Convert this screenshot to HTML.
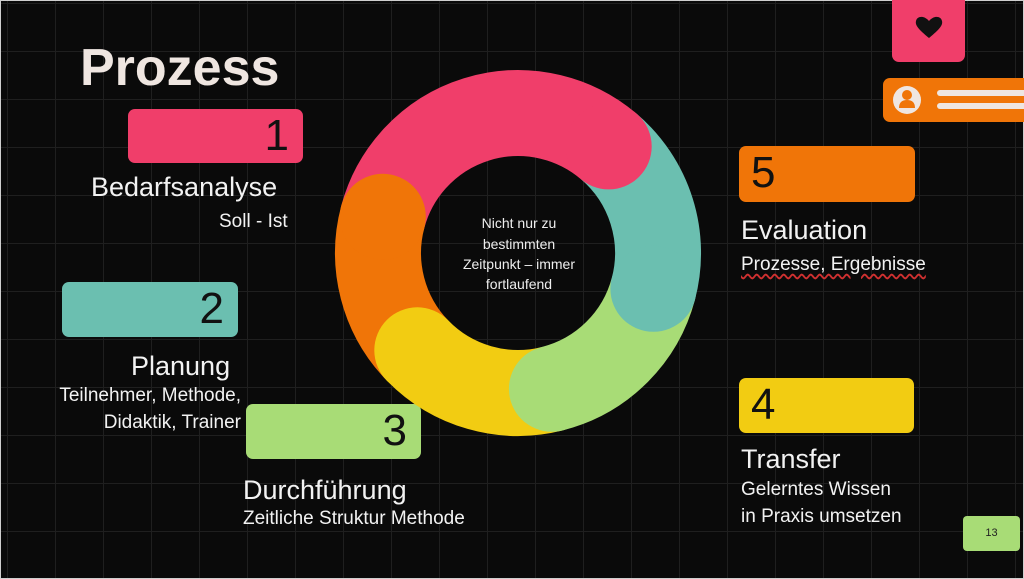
<!DOCTYPE html>
<html><head><meta charset="utf-8"><style>
*{margin:0;padding:0;box-sizing:border-box}
body{width:1024px;height:579px;overflow:hidden;background:#0a0a0a;font-family:"Liberation Sans",sans-serif;color:#f2f2f2;position:relative}
#bg{position:absolute;left:0;top:0;width:1024px;height:579px;border:1px solid #cfcfcf;
background-image:linear-gradient(to right,#1f1f1f 1px,transparent 1px),linear-gradient(to bottom,#1f1f1f 1px,transparent 1px);
background-size:48px 48px;background-position:6px 2px}
.a{position:absolute;white-space:nowrap}
.box{position:absolute;border-radius:7px}
.num{position:absolute;font-size:44px;color:#111;top:2px}
.h{font-size:27px}
.s{font-size:19px}
</style></head><body>
<div class="bg" id="bg"></div>
<div class="a" style="left:80px;top:38px;font-size:52px;font-weight:bold;color:#efe6e1">Prozess</div>

<div class="box" style="left:128px;top:109px;width:175px;height:54px;background:#f03e6a"><span class="num" style="right:14px">1</span></div>
<div class="box" style="left:62px;top:282px;width:176px;height:55px;background:#6bbfb0"><span class="num" style="right:14px">2</span></div>
<div class="box" style="left:246px;top:404px;width:175px;height:55px;background:#a8dc76"><span class="num" style="right:14px">3</span></div>
<div class="box" style="left:739px;top:146px;width:176px;height:56px;background:#f07508"><span class="num" style="left:12px">5</span></div>
<div class="box" style="left:739px;top:378px;width:175px;height:55px;background:#f2cc12"><span class="num" style="left:12px">4</span></div>

<div class="a h" style="left:91px;top:172px">Bedarfsanalyse</div>
<div class="a s" style="left:219px;top:211px">Soll - Ist</div>
<div class="a h" style="left:131px;top:351px">Planung</div>
<div class="a s" style="right:783px;top:385px;text-align:right">Teilnehmer, Methode,</div>
<div class="a s" style="right:783px;top:412px;text-align:right">Didaktik, Trainer</div>
<div class="a h" style="left:243px;top:475px">Durchführung</div>
<div class="a s" style="left:243px;top:508px">Zeitliche Struktur Methode</div>
<div class="a h" style="left:741px;top:215px">Evaluation</div>
<div class="a s" style="left:741px;top:254px;text-decoration:underline wavy #d03030;text-underline-offset:3px">Prozesse, Ergebnisse</div>
<div class="a h" style="left:741px;top:444px">Transfer</div>
<div class="a s" style="left:741px;top:479px">Gelerntes Wissen</div>
<div class="a s" style="left:741px;top:506px">in Praxis umsetzen</div>

<div class="box" style="left:963px;top:516px;width:57px;height:35px;background:#a8dc76;border-radius:4px;color:#222;font-size:11px;text-align:center;line-height:35px">13</div>
<div class="box" style="left:892px;top:0;width:73px;height:62px;background:#f03e6a;border-radius:0 0 7px 7px"></div>
<svg class="a" style="left:914px;top:14px" width="30" height="26" viewBox="0 0 30 26"><path d="M15 24 C4 15 1 11 2 7 C3 2 10 1 15 7 C20 1 27 2 28 7 C29 11 26 15 15 24Z" fill="#111"/></svg>
<div class="box" style="left:883px;top:78px;width:141px;height:44px;background:#f07508;border-radius:7px 0 0 7px"></div>
<svg class="a" style="left:892px;top:85px" width="132" height="32"><circle cx="15" cy="15" r="14" fill="#efe6e1"/><circle cx="15" cy="10" r="5" fill="#f07508"/><path d="M7 23 Q7 15 15 15 Q23 15 23 23Z" fill="#f07508"/><rect x="45" y="5" width="90" height="6" rx="3" fill="#efe6e1"/><rect x="45" y="18" width="90" height="6" rx="3" fill="#efe6e1"/></svg>

<svg class="a" style="left:0;top:0" width="1024" height="579">
<g fill="none" stroke-width="86">
<path d="M417.3 350.3 A140 140 0 0 1 382.8 216.8" stroke="#f07508"/>
<path d="M382.8 216.8 A140 140 0 0 1 608.7 146.4" stroke="#f03e6a"/>
<path d="M608.7 146.4 A140 140 0 0 1 653.4 288.8" stroke="#6bbfb0"/>
<path d="M653.4 288.8 A140 140 0 0 1 551.9 388.8" stroke="#a8dc76"/>
<path d="M551.9 388.8 A140 140 0 0 1 417.3 350.3" stroke="#f2cc12"/>
</g>
<circle cx="608.7" cy="146.4" r="43" fill="#f03e6a"/>
<circle cx="653.4" cy="288.8" r="43" fill="#6bbfb0"/>
<circle cx="551.9" cy="388.8" r="43" fill="#a8dc76"/>
<circle cx="417.3" cy="350.3" r="43" fill="#f2cc12"/>
<circle cx="382.8" cy="216.8" r="43" fill="#f07508"/>
<g font-family="Liberation Sans" font-size="14" fill="#eee" text-anchor="middle">
<text x="519" y="228">Nicht nur zu</text>
<text x="519" y="249">bestimmten</text>
<text x="519" y="269">Zeitpunkt – immer</text>
<text x="519" y="289">fortlaufend</text>
</g>
</svg>
</body></html>
